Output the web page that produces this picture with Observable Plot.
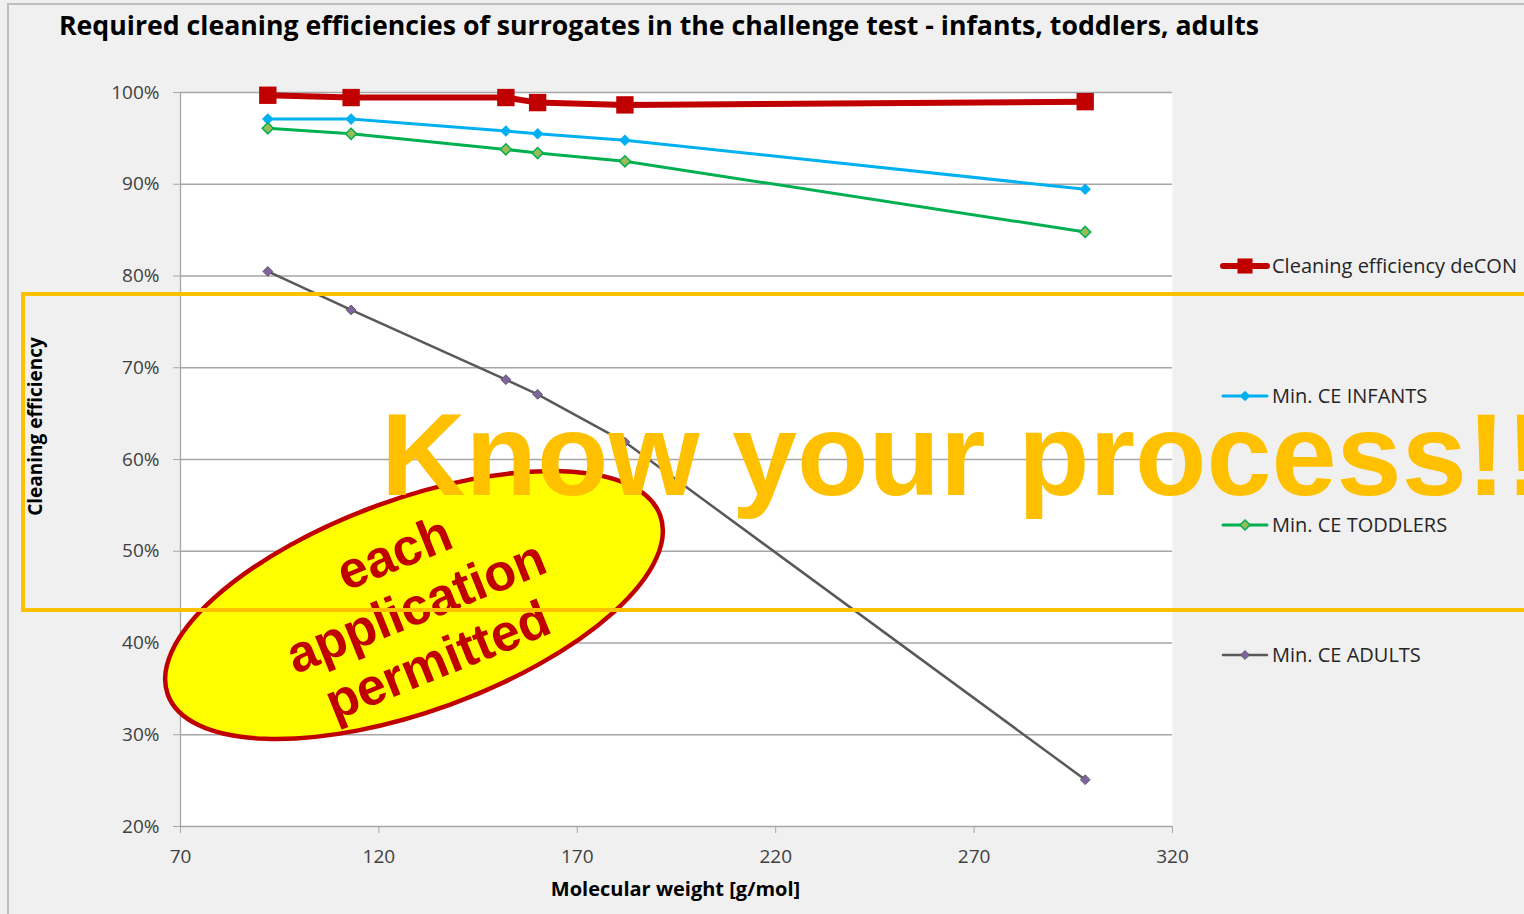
<!DOCTYPE html>
<html>
<head>
<meta charset="utf-8">
<script src="https://cdn.jsdelivr.net/npm/d3@7"></script>
<script src="https://cdn.jsdelivr.net/npm/@observablehq/plot@0.6"></script>
<style>
  html, body { margin: 0; padding: 0; background: #f0f0f0; }
  #wrap { position: relative; width: 1524px; height: 914px; overflow: hidden; background: #f0f0f0; }
  #overlay { position: absolute; left: 0; top: 0; pointer-events: none; }
</style>
</head>
<body>
<div id="wrap"></div>
<script>
// ---- data ----
const titleText = "Required cleaning efficiencies of surrogates in the challenge test - infants, toddlers, adults";
const xTitle = "Molecular weight [g/mol]";
const yTitle = "Cleaning efficiency";
const xTicks = [70, 120, 170, 220, 270, 320];
const yTicks = [20, 30, 40, 50, 60, 70, 80, 90, 100];
const molWeight = [92, 113, 152, 160, 182, 298];
const ceDecon = [99.7, 99.45, 99.45, 98.9, 98.65, 99.0];
const minInfants = [97.1, 97.1, 95.8, 95.5, 94.8, 89.45];
const minToddlers = [96.1, 95.5, 93.8, 93.4, 92.5, 84.8];
const minAdults = [80.5, 76.3, 68.7, 67.1, 61.9, 25.1];
const seriesNames = ["Cleaning efficiency deCON", "Min. CE INFANTS", "Min. CE TODDLERS", "Min. CE ADULTS"];
const annotationMain = "Know your process!!";
const bubbleLines = ["each", "application", "permitted"];

// ---- styles per series ----
const seriesValues = [ceDecon, minInfants, minToddlers, minAdults];
const styles = [
  {stroke: "#c00000", sw: 6, symbol: "square", r: 9.8, fill: "#c00000", mstroke: "none", msw: 0},
  {stroke: "#00b0f0", sw: 3, symbol: "diamond2", r: 5.2, fill: "#00b0f0", mstroke: "none", msw: 0},
  {stroke: "#00b050", sw: 3, symbol: "diamond2", r: 5.0, fill: "#9bbb59", mstroke: "#00b050", msw: 1.5},
  {stroke: "#595959", sw: 2.5, symbol: "diamond2", r: 4.4, fill: "#8064a2", mstroke: "#595959", msw: 1}
];

const rows = [];
seriesNames.forEach((name, i) => {
  molWeight.forEach((mw, j) => rows.push({series: name, mw, ce: seriesValues[i][j]}));
});

const font = "'Open Sans', 'Liberation Sans', sans-serif";

const lineMarks = [];
seriesNames.forEach((name, i) => {
  const s = styles[i];
  const data = rows.filter(d => d.series === name);
  lineMarks.push(Plot.line(data, {x: "mw", y: "ce", stroke: s.stroke, strokeWidth: s.sw, strokeLinejoin: "round"}));
  lineMarks.push(Plot.dot(data, {x: "mw", y: "ce", symbol: () => s.symbol, r: s.r, fill: s.fill, stroke: s.mstroke, strokeWidth: s.msw}));
});

const chart = Plot.plot({
  width: 1524,
  height: 914,
  marginLeft: 180,
  marginRight: 352,
  marginTop: 92,
  marginBottom: 88,
  style: {background: "transparent", fontFamily: font, fontSize: "19px", color: "#404040"},
  x: {domain: [70, 320], label: null},
  y: {domain: [20, 100], label: null},
  symbol: {type: "identity"},
  marks: [
    Plot.frame({fill: "white", stroke: null}),
    Plot.gridY(yTicks, {stroke: "#a6a6a6", strokeOpacity: 1, strokeWidth: 1.3}),
    Plot.ruleX([70], {stroke: "#a6a6a6", strokeWidth: 1.3}),
    Plot.axisY(yTicks, {tickSize: 7, tickPadding: 14, stroke: "#a6a6a6", fill: "#404040", tickFormat: d => d + "%", label: null}),
    Plot.axisX(xTicks, {tickSize: 7, tickPadding: 16, stroke: "#a6a6a6", fill: "#404040", tickFormat: d => String(d), label: null}),
    Plot.text([yTitle], {frameAnchor: "left", textAnchor: "middle", dx: -145, dy: -33, rotate: -90, text: d => d, fontWeight: "bold", fontSize: 19, fill: "#000"}),
    Plot.text([xTitle], {frameAnchor: "bottom", dx: -1, dy: 69, text: d => d, fontWeight: "bold", fontSize: 20, fill: "#000"}),
    ...lineMarks
  ]
});
document.getElementById("wrap").appendChild(chart);

// ---- overlay: frame border, title, legend, annotations ----
const W = 1524, H = 914;
const svg = d3.select("#wrap").append("svg")
  .attr("id", "overlay").attr("width", W).attr("height", H)
  .attr("viewBox", `0 0 ${W} ${H}`);

svg.append("path").attr("d", "M8,914 L8,4 L1524,4").attr("fill", "none").attr("stroke", "#bdbdbd").attr("stroke-width", 2);

svg.append("text").text(titleText)
  .attr("x", 59).attr("y", 35)
  .attr("textLength", 1200).attr("lengthAdjust", "spacingAndGlyphs")
  .style("font-family", font).style("font-weight", "bold").style("font-size", "27px").attr("fill", "#000");

// legend
const legendY = [266, 396, 525, 655];
const symGen = (sym, r) => d3.symbol(sym === "square" ? d3.symbolSquare : d3.symbolDiamond2, Math.PI * r * r)();
seriesNames.forEach((name, i) => {
  const s = styles[i];
  const g = svg.append("g").attr("transform", `translate(1245,${legendY[i]})`);
  g.append("line").attr("x1", -22).attr("x2", 22).attr("stroke", s.stroke)
    .attr("stroke-width", i === 0 ? 6 : s.sw).attr("stroke-linecap", "round");
  g.append("path").attr("d", symGen(s.symbol, i === 0 ? 8.5 : s.r * 0.9))
    .attr("fill", s.fill).attr("stroke", s.mstroke).attr("stroke-width", s.msw);
  g.append("text").text(name).attr("x", 27).attr("dy", "0.35em")
    .style("font-family", font).style("font-size", "20px").attr("fill", "#262626");
});

// yellow bubble
const bubble = svg.append("g").attr("transform", "translate(414,605) rotate(-20)");
bubble.append("ellipse").attr("rx", 262).attr("ry", 106)
  .attr("fill", "#ffff00").attr("stroke", "#c00000").attr("stroke-width", 4.5);
const bubbleText = svg.append("g").attr("transform", "translate(416,607) rotate(-22)");
bubbleLines.forEach((t, i) => {
  bubbleText.append("text").text(t)
    .attr("x", 0).attr("y", (i - 1) * 58 + 17)
    .attr("text-anchor", "middle")
    .style("font-family", "'Liberation Sans', Arial, sans-serif").style("font-weight", "bold").style("font-size", "52px")
    .attr("fill", "#c00000");
});

// orange box
svg.append("rect").attr("x", 23).attr("y", 294).attr("width", 1540).attr("height", 316)
  .attr("fill", "none").attr("stroke", "#ffc000").attr("stroke-width", 4);

// big text
svg.append("text").text(annotationMain)
  .attr("x", 381).attr("y", 495)
  .style("font-family", "'Liberation Sans', Arial, sans-serif").style("font-weight", "bold").style("font-size", "117px")
  .attr("fill", "#ffc000");
</script>
</body>
</html>
